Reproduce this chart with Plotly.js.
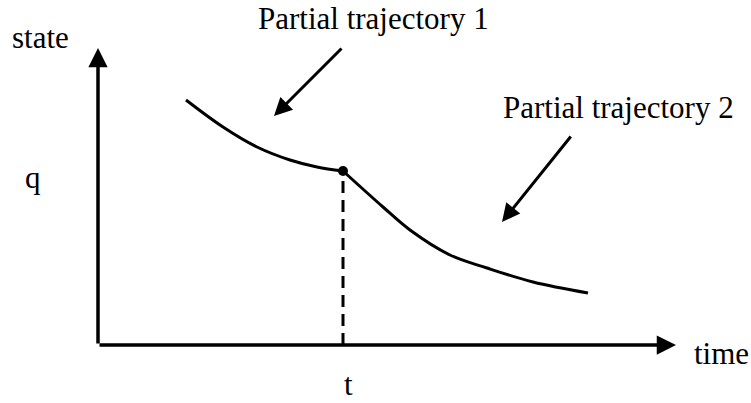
<!DOCTYPE html>
<html>
<head>
<meta charset="utf-8">
<script src="https://cdn.plot.ly/plotly-3.0.1.min.js"></script>
<style>html,body{margin:0;padding:0;background:#fff;}#chart{width:751px;height:403px;}</style>
</head>
<body>
<div id="chart"></div>
<script>
// Partial trajectory 1 (time, state)
var traj1Time  = [8.8, 12.5, 15.9, 19.2, 21.9, 24.5];
var traj1State = [24.5, 21.8, 19.8, 18.5, 17.8, 17.4];
// Partial trajectory 2 (time, state)
var traj2Time  = [24.5, 28.5, 31.2, 35.2, 38.9, 43.5, 49.0];
var traj2State = [17.4, 13.8, 11.5, 9.0, 7.7, 6.3, 5.2];
// switching instant t and its state q
var switchTime  = 24.5;
var switchState = 17.4;
// axis ends
var timeAxisEnd  = 57.8;
var stateAxisEnd = 29.7;
// pointer arrows [tailX, tailY, headX, headY]
var pointer1 = [24.5, 29.8, 17.6, 22.9];
var pointer2 = [47.4, 21.0, 40.4, 12.3];
// text labels
var labelTexts = ["state", "time", "t", "q", "Partial trajectory 1", "Partial trajectory 2"];
var labelX     = [-5.8, 62.3, 25.0, -6.55, 27.5, 52.05];
var labelY     = [30.8, -0.8, -3.9, 16.8, 32.7, 23.8];

var traces = [
  {x: traj1Time, y: traj1State, mode: "lines", line: {color: "#000", width: 3, shape: "spline"}, hoverinfo: "skip"},
  {x: traj2Time, y: traj2State, mode: "lines", line: {color: "#000", width: 3, shape: "spline"}, hoverinfo: "skip"},
  {x: [switchTime, switchTime], y: [0, switchState], mode: "lines", line: {color: "#000", width: 3, dash: "12px,7px"}, hoverinfo: "skip"},
  {x: [switchTime], y: [switchState], mode: "markers", marker: {color: "#000", size: 10}, hoverinfo: "skip"}
];

var annotations = [];
function arrow(tx, ty, hx, hy, w, size) {
  return {x: hx, y: hy, ax: tx, ay: ty, xref: "x", yref: "y", axref: "x", ayref: "y",
          text: "", showarrow: true, arrowhead: 2, arrowsize: size, arrowwidth: w, arrowcolor: "#000", standoff: 0, startstandoff: 0};
}
annotations.push(arrow(0, 0, timeAxisEnd, 0, 3.5, 1.1));
annotations.push(arrow(0, 0, 0, stateAxisEnd, 3.5, 1.1));
annotations.push(arrow(pointer1[0], pointer1[1], pointer1[2], pointer1[3], 3, 1.2));
annotations.push(arrow(pointer2[0], pointer2[1], pointer2[2], pointer2[3], 3, 1.2));
for (var i = 0; i < labelTexts.length; i++) {
  annotations.push({x: labelX[i], y: labelY[i], xref: "x", yref: "y", text: labelTexts[i],
    showarrow: false, xanchor: "center", yanchor: "middle", borderpad: 0,
    font: {family: "Liberation Serif", size: 31, color: "#000"}});
}

var layout = {
  width: 751, height: 403,
  margin: {l: 0, r: 0, t: 0, b: 0},
  font: {family: "Liberation Serif", size: 31, color: "#000"},
  paper_bgcolor: "#fff", plot_bgcolor: "#fff",
  showlegend: false,
  xaxis: {range: [-9.8, 65.3], visible: false, fixedrange: true},
  yaxis: {range: [-5.8, 34.5], visible: false, fixedrange: true},
  annotations: annotations
};
Plotly.newPlot("chart", traces, layout, {staticPlot: true, displayModeBar: false});
</script>
</body>
</html>
